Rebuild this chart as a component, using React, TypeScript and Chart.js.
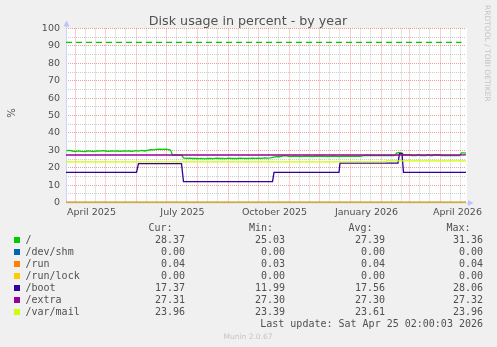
import React, { useEffect, useRef } from 'react';
import { Chart, registerables } from 'chart.js';

Chart.register(...registerables);

// x values are day numbers counted from 1 January 2025
const X_MIN = 80.5;
const X_MAX = 480.5;

const majorGridDays = [90, 120, 151, 181, 212, 243, 273, 304, 334, 365, 396, 424, 455];
const minorGridDays = [100, 110, 130, 140, 161, 171, 191, 201, 222, 232, 253, 263, 283, 293, 314, 324, 344, 354, 375, 385, 406, 416, 434, 444, 465, 475];
const labelDays = [106, 197, 289, 381, 472];
const xLabels = ['April 2025', 'July 2025', 'October 2025', 'January 2026', 'April 2026'];

const yTicks = [0, 5, 10, 15, 20, 25, 30, 35, 40, 45, 50, 55, 60, 65, 70, 75, 80, 85, 90, 95, 100];

const rootDays = [81, 84, 87, 90, 93, 96, 99, 102, 105, 108, 111, 114, 117, 120, 123, 126, 129, 132, 135, 138, 141, 144, 147, 150, 153, 156, 159, 162, 165, 168, 171, 174, 177, 180, 183, 185, 187, 190, 193, 196, 198, 201, 204, 207, 210, 213, 216, 219, 222, 225, 228, 231, 234, 237, 240, 243, 246, 249, 252, 255, 258, 261, 264, 267, 270, 273, 276, 279, 282, 285, 288, 291, 294, 297, 300, 303, 306, 309, 312, 315, 318, 321, 324, 327, 330, 333, 336, 339, 342, 345, 348, 351, 354, 357, 360, 363, 366, 369, 372, 375, 378, 381, 384, 387, 390, 393, 396, 399, 402, 405, 408, 410, 411, 414, 416, 417, 418, 422, 425, 426, 431, 432, 434, 435, 441, 442, 444, 445, 447, 448, 455, 456, 474, 476, 478, 480.5];
const rootValues = [29.8, 30.0, 29.6, 29.3, 29.7, 29.4, 29.2, 29.6, 29.5, 29.3, 29.7, 29.5, 29.8, 29.6, 29.4, 29.7, 29.5, 29.6, 29.4, 29.7, 29.5, 29.6, 29.4, 29.8, 29.5, 29.9, 29.6, 30.0, 30.3, 30.2, 30.5, 30.6, 30.5, 30.6, 30.4, 30.1, 27.3, 27.3, 27.2, 27.3, 25.6, 25.4, 25.5, 25.3, 25.4, 25.2, 25.3, 25.1, 25.3, 25.4, 25.2, 25.5, 25.3, 25.4, 25.2, 25.5, 25.3, 25.4, 25.3, 25.5, 25.4, 25.3, 25.4, 25.5, 25.4, 25.5, 25.4, 25.6, 25.5, 25.7, 26.1, 26.4, 26.3, 26.6, 26.9, 26.5, 26.4, 26.6, 26.5, 26.4, 26.5, 26.6, 26.5, 26.4, 26.6, 26.5, 26.6, 26.5, 26.4, 26.5, 26.6, 26.5, 26.4, 26.6, 26.5, 26.6, 26.5, 26.5, 26.6, 26.5, 26.9, 27.0, 26.9, 27.0, 26.9, 27.0, 26.9, 27.0, 26.9, 27.0, 26.9, 27.4, 28.4, 28.8, 28.5, 28.3, 27.3, 27.3, 27.3, 26.9, 26.9, 27.3, 27.3, 26.9, 26.9, 27.3, 27.3, 26.9, 26.9, 27.3, 27.3, 26.9, 26.9, 28.5, 28.5, 28.37];

const flatDays = [80.5, 480.5];
const devShmValues = [0, 0];
const runValues = [0.04, 0.04];
const runLockValues = [0, 0];

const bootDays = [80.5, 151, 153, 196, 198, 287, 288.5, 353.5, 354.5, 412.5, 414, 416.5, 418, 480.5];
const bootValues = [17.37, 17.37, 22.3, 22.3, 11.99, 11.99, 17.3, 17.3, 22.6, 22.6, 28.06, 28.06, 17.37, 17.37];

const extraDays = [80.5, 470, 480.5];
const extraValues = [27.3, 27.3, 27.32];

const mailDays = [80.5, 400, 401, 480.5];
const mailValues = [23.39, 23.39, 23.96, 23.96];

const warningDays = [80.5, 476];
const warningValues = [92, 92];

const legendLabels = ['/', '/dev/shm', '/run', '/run/lock', '/boot', '/extra', '/var/mail'];
const legendColors = ['#00cc00', '#0066b3', '#ff8000', '#ffcc00', '#330099', '#990099', '#ccff00'];
const curValues = ['28.37', '0.00', '0.04', '0.00', '17.37', '27.31', '23.96'];
const minValues = ['25.03', '0.00', '0.03', '0.00', '11.99', '27.30', '23.39'];
const avgValues = ['27.39', '0.00', '0.04', '0.00', '17.56', '27.30', '23.61'];
const maxValues = ['31.36', '0.00', '0.04', '0.00', '28.06', '27.32', '23.96'];

const pts = (xs: number[], ys: number[]) => xs.map((x, i) => ({ x, y: ys[i] }));

const TEXT = '#505050';
const RED_GRID = 'rgba(230,80,80,0.55)';
const GRAY_GRID = 'rgba(140,140,140,0.45)';

const decor = {
  id: 'decor',
  beforeDraw(chart: any) {
    const { ctx, chartArea: a, width, height } = chart;
    ctx.save();
    ctx.fillStyle = '#f0f0f0';
    ctx.fillRect(0, 0, width, height);
    ctx.fillStyle = '#ffffff';
    ctx.fillRect(a.left, a.top, a.right - a.left + 1, a.bottom - a.top);
    ctx.restore();
  },
  beforeDatasetsDraw(chart: any) {
    const { ctx, chartArea: a } = chart;
    ctx.save();
    ctx.strokeStyle = '#cdd2fa';
    ctx.lineWidth = 1;
    ctx.beginPath();
    ctx.moveTo(a.left + 0.5, a.top - 3);
    ctx.lineTo(a.left + 0.5, a.bottom + 0.5);
    ctx.lineTo(a.right + 3, a.bottom + 0.5);
    ctx.stroke();
    ctx.fillStyle = '#bcc3fa';
    ctx.beginPath();
    ctx.moveTo(a.left + 0.5, a.top - 8);
    ctx.lineTo(a.left - 2.5, a.top - 2);
    ctx.lineTo(a.left + 3.5, a.top - 2);
    ctx.closePath();
    ctx.fill();
    ctx.beginPath();
    ctx.moveTo(a.right + 7.5, a.bottom + 0.5);
    ctx.lineTo(a.right + 2, a.bottom - 2.5);
    ctx.lineTo(a.right + 2, a.bottom + 3.5);
    ctx.closePath();
    ctx.fill();
    ctx.restore();
  },
  afterDraw(chart: any) {
    const { ctx } = chart;
    ctx.save();
    // title
    ctx.fillStyle = TEXT;
    ctx.font = '12.7px "DejaVu Sans"';
    ctx.textAlign = 'center';
    ctx.textBaseline = 'alphabetic';
    ctx.fillText('Disk usage in percent - by year', 248, 24.5);
    // y title
    ctx.save();
    ctx.translate(14.5, 113);
    ctx.rotate(-Math.PI / 2);
    ctx.font = '10px "DejaVu Sans"';
    ctx.fillText('%', 0, 0);
    ctx.restore();
    // watermark
    ctx.save();
    ctx.translate(485, 5);
    ctx.rotate(Math.PI / 2);
    ctx.fillStyle = '#c4c4c4';
    ctx.font = '7.5px "DejaVu Sans"';
    ctx.textAlign = 'left';
    ctx.fillText('RRDTOOL / TOBI OETIKER', 0, 0);
    ctx.restore();
    // legend
    ctx.font = '10px "DejaVu Sans Mono"';
    ctx.fillStyle = TEXT;
    ctx.textAlign = 'left';
    ctx.fillText('Cur:', 148.5, 231);
    ctx.fillText('Min:', 249, 231);
    ctx.fillText('Avg:', 348.5, 231);
    ctx.fillText('Max:', 446.5, 231);
    legendLabels.forEach((lab, i) => {
      const y = 243 + i * 12;
      ctx.fillStyle = legendColors[i];
      ctx.fillRect(14, y - 6, 6, 6);
      ctx.fillStyle = TEXT;
      ctx.textAlign = 'left';
      ctx.fillText(lab, 25.5, y);
      ctx.textAlign = 'right';
      ctx.fillText(curValues[i], 185, y);
      ctx.fillText(minValues[i], 285, y);
      ctx.fillText(avgValues[i], 385, y);
      ctx.fillText(maxValues[i], 483, y);
    });
    ctx.textAlign = 'right';
    ctx.fillText('Last update: Sat Apr 25 02:00:03 2026', 483, 327);
    ctx.textAlign = 'center';
    ctx.fillStyle = '#c4c4c4';
    ctx.font = '7.5px "DejaVu Sans"';
    ctx.fillText('Munin 2.0.67', 248, 339);
    ctx.restore();
  },
};

export default function App() {
  const ref = useRef<HTMLCanvasElement>(null);
  useEffect(() => {
    if (!ref.current) return;
    const line = (label: string, xs: number[], ys: number[], color: string, order: number, extra: any = {}) => ({
      label,
      data: pts(xs, ys),
      borderColor: color,
      backgroundColor: color,
      borderWidth: 1.3,
      pointRadius: 0,
      tension: 0,
      fill: false,
      order,
      ...extra,
    });
    const chart = new Chart(ref.current, {
      type: 'line',
      data: {
        datasets: [
          line('/', rootDays, rootValues, legendColors[0], 7),
          line('/dev/shm', flatDays, devShmValues, legendColors[1], 6),
          line('/run', flatDays, runValues, legendColors[2], 5),
          line('/run/lock', flatDays, runLockValues, legendColors[3], 4),
          line('/boot', bootDays, bootValues, legendColors[4], 3),
          line('/extra', extraDays, extraValues, legendColors[5], 2),
          line('/var/mail', mailDays, mailValues, legendColors[6], 1),
          line('warning', warningDays, warningValues, '#00cc00', 0, { borderDash: [6, 4] }),
        ] as any,
      },
      options: {
        animation: false,
        responsive: false,
        devicePixelRatio: 1,
        layout: { padding: { top: 28.5, right: 31, left: 0, bottom: 0 } },
        plugins: { legend: { display: false }, tooltip: { enabled: false }, title: { display: false } },
        scales: {
          x: {
            type: 'linear',
            min: X_MIN,
            max: X_MAX,
            afterBuildTicks: (s: any) => {
              const vals = [...majorGridDays, ...minorGridDays, ...labelDays].sort((p, q) => p - q);
              s.ticks = vals.map((v) => ({ value: v }));
            },
            afterFit: (s: any) => {
              s.height = 144.5;
            },
            ticks: {
              autoSkip: false,
              maxRotation: 0,
              minRotation: 0,
              padding: 4,
              color: TEXT,
              font: { family: 'DejaVu Sans', size: 9.5 },
              callback: (v: any) => {
                const i = labelDays.indexOf(Number(v));
                return i >= 0 ? xLabels[i] : '';
              },
            },
            grid: {
              drawTicks: false,
              lineWidth: 1,
              color: (c: any) => {
                const v = c.tick ? c.tick.value : NaN;
                if (majorGridDays.includes(v)) return RED_GRID;
                if (minorGridDays.includes(v)) return GRAY_GRID;
                return 'rgba(0,0,0,0)';
              },
            },
            border: { display: false, dash: [1, 1] },
          },
          y: {
            type: 'linear',
            min: 0,
            max: 100,
            afterBuildTicks: (s: any) => {
              s.ticks = yTicks.map((v) => ({ value: v }));
            },
            afterFit: (s: any) => {
              s.width = 66;
            },
            ticks: {
              autoSkip: false,
              padding: 6,
              color: TEXT,
              font: { family: 'DejaVu Sans', size: 9.5 },
              callback: (v: any) => (Number(v) % 10 === 0 ? String(v) : ''),
            },
            grid: {
              drawTicks: false,
              lineWidth: 1,
              color: (c: any) => {
                const v = c.tick ? c.tick.value : NaN;
                return v % 10 === 0 ? RED_GRID : GRAY_GRID;
              },
            },
            border: { display: false, dash: [1, 1] },
          },
        },
      } as any,
      plugins: [decor],
    });
    return () => chart.destroy();
  }, []);
  return (
    <div style={{ position: 'fixed', left: 0, top: 0, width: 497, height: 347, background: '#f0f0f0' }}>
      <canvas ref={ref} width={497} height={347} style={{ display: 'block' }} />
    </div>
  );
}
